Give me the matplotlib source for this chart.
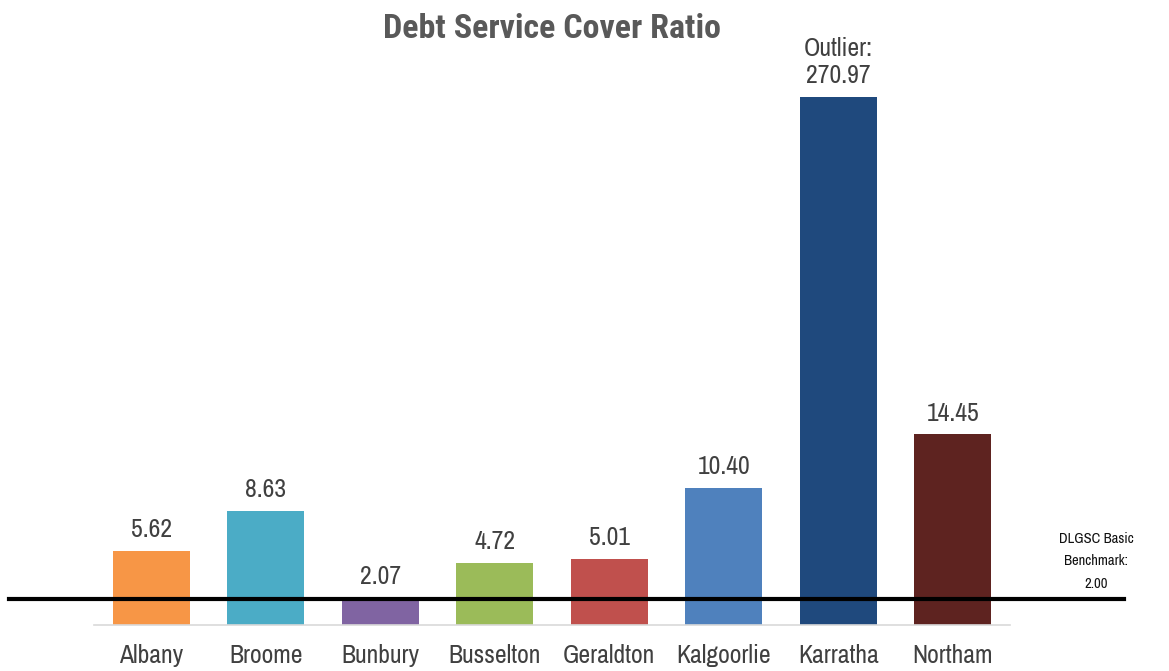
import numpy as np
import matplotlib.pyplot as plt
from matplotlib.lines import Line2D

plt.rcParams['font.family'] = ['Archivo Narrow', 'DejaVu Sans']
title_font = ['Roboto Condensed', 'IBM Plex Sans Condensed', 'DejaVu Sans']

towns = ['Albany', 'Broome', 'Bunbury', 'Busselton', 'Geraldton', 'Kalgoorlie', 'Karratha', 'Northam']
dscr = [5.62, 8.63, 2.07, 4.72, 5.01, 10.40, 270.97, 14.45]
colors = ['#F79646', '#4BACC6', '#8064A2', '#9BBB59', '#C0504D', '#4F81BD', '#1F497D', '#5E2320']
benchmark = 2.00
# bars above this are clipped and flagged as outliers
display_cap = 40.0

fig = plt.figure(figsize=(11.69, 6.71), dpi=100)
ax = fig.add_axes([94 / 1169, 46 / 671, 916 / 1169, 594 / 671])

x = np.arange(len(towns))
heights = [min(v, display_cap) for v in dscr]
ax.bar(x, heights, width=0.67, color=colors, zorder=2)

for xi, v, h in zip(x, dscr, heights):
    if v > display_cap:
        label = f'Outlier:\n{v:.2f}'
    else:
        label = f'{v:.2f}'
    ax.annotate(label, (xi, h), xytext=(0, 7), textcoords='offset points',
                ha='center', va='bottom', fontsize=18.5, color='#404040',
                linespacing=1.2)

ax.set_xlim(-0.5, len(towns) - 0.5)
ax.set_ylim(0, 45)
ax.set_xticks(x)
ax.set_xticklabels(towns, fontsize=18.5, color='#404040')
ax.tick_params(axis='x', length=0, pad=14)
ax.set_yticks([])
for s in ['top', 'right', 'left']:
    ax.spines[s].set_visible(False)
ax.spines['bottom'].set_color('#D9D9D9')
ax.spines['bottom'].set_linewidth(1.2)

# benchmark line runs past the plot area on both sides
y_bm = ax.transData.transform((0, benchmark))[1]
y_fig = fig.transFigure.inverted().transform((0, y_bm))[1]
fig.add_artist(Line2D([9 / 1169, 1124 / 1169], [y_fig, y_fig], color='black',
                      linewidth=3, zorder=5))
fig.text(1096 / 1169, y_fig + 8 / 671, f'DLGSC Basic\nBenchmark:\n{benchmark:.2f}',
         ha='center', va='bottom', fontsize=10.5, color='#111111', linespacing=1.75)

fig.text(552 / 1169, 1 - 29 / 671, 'Debt Service Cover Ratio', ha='center', va='center',
         fontsize=24.5, fontweight='bold', color='#595959', family=title_font)

fig.savefig('out.png', dpi=100)
